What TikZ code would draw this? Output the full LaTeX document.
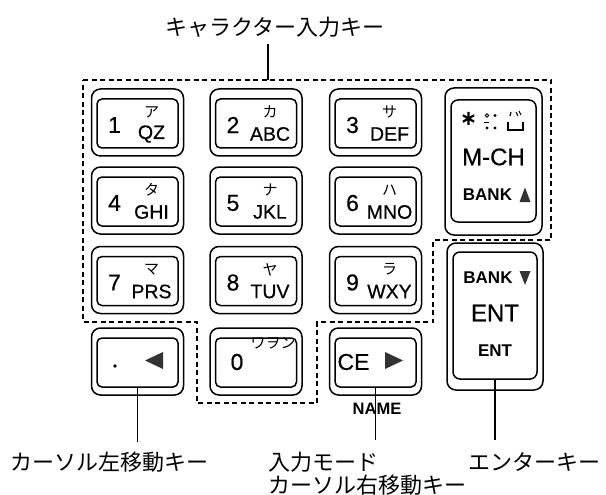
\documentclass[tikz,border=0pt]{standalone}
\usepackage{fontspec}
\setmainfont{Liberation Sans}
\newfontfamily\keyfont{Liberation Sans}[FakeBold=0.5]
\newfontfamily\jp{Noto Sans CJK JP}
\newcommand\numkey[6]{%
  \node[keyout] (#1) at (#2,#3) {};
  \node[keyin] (#1i) at (#2,#3+1) {};
  \node[digittxt] (#1d) at (#2-23,#3+2.5) {#4};
  \node[kanatxt] (#1k) at (#2+14,#3-10.5) {#5};
  \node[lettxt] (#1l) at (#2+14,#3+11.5) {#6};
}
\begin{document}
\begin{tikzpicture}[x=1pt,y=-1pt,
  keyout/.style={draw, line width=1.5pt, rounded corners=9pt, minimum width=92pt, minimum height=67pt, inner sep=0pt},
  keyin/.style={draw, line width=1.5pt, rounded corners=5pt, minimum width=81pt, minimum height=49pt, inner sep=0pt},
  txt/.style={inner sep=0pt},
  digittxt/.style={txt, font=\keyfont\fontsize{23}{23}\selectfont},
  kanatxt/.style={txt, font=\jp\fontsize{15}{15}\selectfont},
  lettxt/.style={txt, font=\keyfont\fontsize{19.5}{19.5}\selectfont},
  jplab/.style={txt, font=\jp\fontsize{22}{22}\selectfont, anchor=west},
  boldtxt/.style={txt, font=\bfseries\fontsize{17}{17}\selectfont},
  bigtxt/.style={txt, font=\keyfont\fontsize{24}{24}\selectfont},
  regionline/.style={line width=2pt, dash pattern=on 5pt off 3.5pt},
  conn/.style={line width=1.3pt},
  trifill/.style={fill=black!80}
]
\useasboundingbox (0,0) rectangle (606,495);

% dashed region of character keys
\draw[regionline] (83,80) -- (551,80) -- (551,240) -- (433,240) -- (433,322)
  -- (317,322) -- (317,403) -- (197,403) -- (197,322) -- (83,322) -- cycle;

% title
\node[jplab, anchor=center] (title) at (275,27) {キャラクター入力キー};
\coordinate (ttop) at (268,80);
\draw[conn, shorten <=7pt] (title.south -| ttop) -- (ttop);

% numeric keys
\numkey{k1}{137.5}{122.5}{1}{ア}{QZ}
\numkey{k2}{256}{122.5}{2}{カ}{ABC}
\numkey{k3}{375.5}{122.5}{3}{サ}{DEF}
\numkey{k4}{137.5}{200.5}{4}{タ}{GHI}
\numkey{k5}{256}{200.5}{5}{ナ}{JKL}
\numkey{k6}{375.5}{200.5}{6}{ハ}{MNO}
\numkey{k7}{137.5}{280}{7}{マ}{PRS}
\numkey{k8}{256}{280}{8}{ヤ}{TUV}
\numkey{k9}{375.5}{280}{9}{ラ}{WXY}

% bottom row
\node[keyout] (kdot) at (137.5,361.5) {};
\node[keyin] (kdoti) at (137.5,362.5) {};
\fill (115,366) circle (1.8pt);
\fill[trifill] (145,360.5) -- (163,352) -- (163,369) -- cycle;

\node[keyout] (k0) at (256,361.5) {};
\node[keyin] (k0i) at (256,362.5) {};
\node[digittxt] (k0d) at (237,362) {0};
\node[txt, font=\jp\fontsize{15}{15}\selectfont] (k0k) at (273,343) {ワヲン};

\node[keyout] (kce) at (375.5,361.5) {};
\node[keyin] (kcei) at (375.5,362.5) {};
\node[digittxt] (kced) at (353.5,362) {CE};
\fill[trifill] (403,360.5) -- (385,352) -- (385,369) -- cycle;
\node[txt, font=\bfseries\fontsize{16.5}{16.5}\selectfont] (name) at (377,409) {NAME};

% M-CH key
\node[keyout, minimum width=97pt, minimum height=147pt] (kmch) at (493.5,161.5) {};
\node[keyin, rounded corners=7pt, minimum width=85pt, minimum height=122pt] (kmchi) at (493.5,161) {};
\draw[line width=2.2pt] (468.5,112) -- (468.5,125) (462.9,115.25) -- (474.1,121.75) (462.9,121.75) -- (474.1,115.25);
\draw[line width=0.9pt] (487,115.5) circle (1.8pt);
\fill (495,115.5) circle (1.7pt);
\draw[line width=1.3pt] (484,122.5) -- (489,122.5);
\fill (487,128) circle (1.7pt) (495,128) circle (1.7pt);
\draw[line width=1.2pt] (511,112) -- (510,116);
\draw[line width=1pt] (516,112) -- (518,116) (519,111) -- (521,115);
\draw[line width=1.3pt] (508,122) -- (508,130) -- (523,130) -- (523,122);
\node[bigtxt] (mch) at (493.5,157) {M-CH};
\node[boldtxt] (bankup) at (487.5,195) {BANK};
\fill[trifill] (525,187.5) -- (519.5,202) -- (530.5,202) -- cycle;

% ENT key
\node[keyout, minimum width=96pt, minimum height=147pt] (kent) at (495,316.5) {};
\node[keyin, rounded corners=7pt, minimum width=84pt, minimum height=127pt] (kenti) at (495,315.5) {};
\node[boldtxt] (bankdn) at (488,278) {BANK};
\fill[trifill] (525,285) -- (519.5,271) -- (530.5,271) -- cycle;
\node[bigtxt] (entbig) at (495,313) {ENT};
\node[boldtxt] (entsmall) at (495,351) {ENT};

% connectors and labels
\coordinate (ldot) at (137.5,442);
\coordinate (lce) at (375.5,440);
\coordinate (lent) at (495,440);
\draw[conn] (kdoti.south) -- (ldot);
\draw[conn] (kcei.south) -- (lce);
\draw[conn] (kenti.south) -- (lent);

\node[jplab] (lleft) at (10,462) {カーソル左移動キー};
\node[jplab] (lmode) at (268,462) {入力モード};
\node[jplab] (lright) at (268,485) {カーソル右移動キー};
\node[jplab] (lenter) at (468,462) {エンターキー};
\end{tikzpicture}
\end{document}
